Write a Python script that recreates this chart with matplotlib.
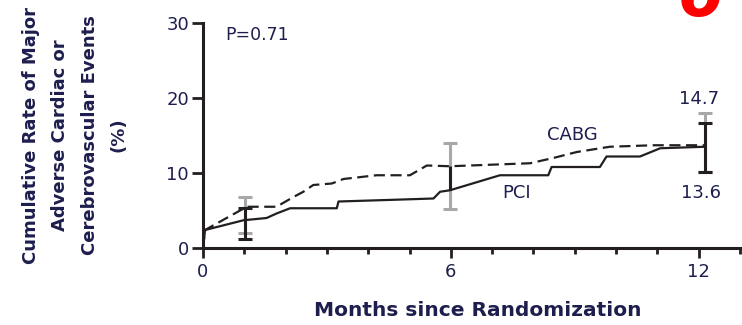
import matplotlib
matplotlib.use("Agg")
import matplotlib.pyplot as plt
from matplotlib.ticker import MultipleLocator

# curve points (months, cumulative %)
cabg_months = [0, 0.05, 1.06, 1.78, 2.19, 2.43, 2.67, 3.12, 3.40, 4.2, 5.01, 5.42, 5.98,
               7.92, 8.48, 9.05, 9.85, 10.9, 11.3, 12.15]
cabg_rate = [0, 2.4, 5.5, 5.5, 6.8, 7.5, 8.4, 8.6, 9.2, 9.7, 9.7, 11.0, 10.9,
             11.3, 12.0, 12.8, 13.5, 13.7, 13.7, 13.7]

pci_months = [0, 0.05, 0.98, 1.54, 1.78, 2.11, 3.24, 3.28, 4.45, 5.58, 5.74, 5.98,
              7.19, 8.36, 8.44, 9.61, 9.77, 10.58, 11.07, 12.15]
pci_rate = [0, 2.4, 3.7, 4.0, 4.6, 5.3, 5.3, 6.2, 6.4, 6.6, 7.5, 7.7,
            9.7, 9.7, 10.8, 10.8, 12.2, 12.2, 13.3, 13.5]

# error bars (95% CI) at 1, 6 and 12 months
cabg_err_x = [1.02, 5.98, 12.15]
cabg_err_mid = [5.5, 10.9, 13.7]
cabg_err_lo = [2.0, 5.2, 10.2]
cabg_err_hi = [6.8, 14.0, 18.0]

pci_err_x = [1.02, 12.15]
pci_err_mid = [3.7, 13.5]
pci_err_lo = [1.2, 10.2]
pci_err_hi = [5.3, 16.6]

x_ticks = [0, 6, 12]
y_ticks = [0, 10, 20, 30]

ink = "#231f20"
navy = "#1e1e4e"

fig = plt.figure(figsize=(7.42, 3.25), dpi=100)
ax = fig.add_axes([203 / 742, 77 / 325, 539 / 742, 225 / 325])

# CI bars first so the curves sit on top
ax.errorbar(cabg_err_x, cabg_err_mid,
            yerr=[[m - l for m, l in zip(cabg_err_mid, cabg_err_lo)],
                  [h - m for m, h in zip(cabg_err_mid, cabg_err_hi)]],
            fmt="none", ecolor="#a8a8a8", elinewidth=2.2, capsize=5, capthick=2.2, zorder=2)
ax.errorbar(pci_err_x, pci_err_mid,
            yerr=[[m - l for m, l in zip(pci_err_mid, pci_err_lo)],
                  [h - m for m, h in zip(pci_err_mid, pci_err_hi)]],
            fmt="none", ecolor=ink, elinewidth=2.2, capsize=5, capthick=2.2, zorder=3)
# black part of the 6-month bar between the two curves
ax.vlines(cabg_err_x[1], pci_rate[pci_months.index(5.98)], cabg_err_mid[1],
          color=ink, lw=2.2, zorder=3)

ax.plot(cabg_months, cabg_rate, color=ink, lw=1.6, ls=(0, (5, 2.5)), zorder=4)
ax.plot(pci_months, pci_rate, color=ink, lw=1.6, zorder=4)

ax.set_xlim(0, 13.05)
ax.set_ylim(0, 30)
ax.set_xticks(x_ticks)
ax.xaxis.set_minor_locator(MultipleLocator(1))
ax.set_yticks(y_ticks)

for s in ["top", "right"]:
    ax.spines[s].set_visible(False)
for s in ["left", "bottom"]:
    ax.spines[s].set_linewidth(2.2)
    ax.spines[s].set_color(ink)

ax.tick_params(axis="both", which="major", direction="out", color=ink, width=2,
               labelsize=13, labelcolor=navy)
ax.tick_params(axis="x", which="major", length=7, pad=4)
ax.tick_params(axis="x", which="minor", length=4, width=2, color=ink)
ax.tick_params(axis="y", which="major", length=8, pad=2)

# annotations
ax.text(0.55, 28.4, "P=0.71", fontsize=12.5, color=navy, va="center", ha="left")
ax.text(8.95, 15.0, "CABG", fontsize=13, color=navy, va="center", ha="center")
ax.text(7.6, 7.3, "PCI", fontsize=13, color=navy, va="center", ha="center")
ax.text(12.0, 19.8, "14.7", fontsize=13, color=navy, va="center", ha="center")
ax.text(12.05, 7.3, "13.6", fontsize=13, color=navy, va="center", ha="center")

fig.text(478 / 742, 1 - 310 / 325, "Months since Randomization", fontsize=14.5,
         fontweight="bold", color=navy, ha="center", va="center")
fig.text(75 / 742, 1 - 135 / 325,
         "Cumulative Rate of Major\nAdverse Cardiac or\nCerebrovascular Events\n(%)",
         rotation=90, fontsize=13, fontweight="bold", color=navy, ha="center",
         va="center", multialignment="center", linespacing=1.8)

# cropped red panel mark at the top edge
fig.text(701 / 742, 1 - 16 / 325, "6", fontsize=48, fontweight="bold", style="italic",
         color="red", ha="center", va="baseline")

fig.savefig("out.png", dpi=100)
